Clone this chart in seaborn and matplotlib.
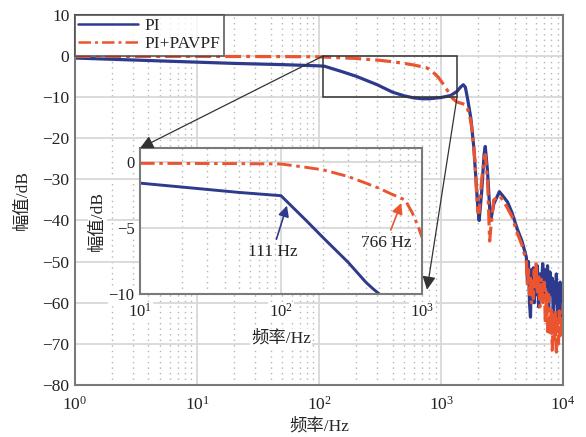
import numpy as np
import pandas as pd
import seaborn as sns
import matplotlib
matplotlib.use('Agg')
import matplotlib.pyplot as plt
from matplotlib.patches import Rectangle, ConnectionPatch
from matplotlib.ticker import LogLocator, NullFormatter

# ---- data ----
# main plot, PI
pi_f = [1, 2, 5, 10, 20, 50, 100, 111, 150, 200, 300, 400, 500, 600, 700, 800,
        1000, 1200, 1350, 1450, 1520, 1580, 1650, 1750, 1850, 1950, 2000, 2050,
        2150, 2250, 2300, 2400, 2500, 2550, 2700, 3000, 3200, 3500, 3800, 4200,
        4600, 5000, 5100, 5200, 5300, 5400, 5500, 5600, 5700, 5800, 5900, 6000,
        6150, 6300, 6450, 6600, 6800, 7000, 7150, 7300, 7450, 7600, 7800, 8000,
        8150, 8300, 8450, 8600, 8800, 9000, 9150, 9300, 9450, 9600, 9800, 10000]
pi_mag = [-0.5, -0.8, -1.2, -1.5, -1.8, -2.1, -2.4, -2.5, -3.7, -4.9, -7.0,
          -8.8, -9.7, -10.2, -10.4, -10.4, -10.1, -9.6, -8.6, -7.5, -7.0, -7.6,
          -10.5, -15.0, -22.0, -32.0, -37.0, -40.0, -33.0, -24.0, -22.0, -28.0,
          -37.0, -40.0, -36.0, -33.0, -34.0, -35.5, -38.0, -42.0, -45.0, -49.0,
          -55.0, -50.0, -60.0, -63.5, -52.0, -58.0, -51.5, -60.0, -53.0, -58.0,
          -51.0, -61.0, -53.0, -57.0, -50.5, -59.0, -52.0, -56.0, -51.0, -62.0,
          -52.5, -58.0, -54.0, -63.0, -55.0, -60.0, -53.0, -65.0, -56.0, -62.0,
          -55.0, -65.0, -59.0, -57.0]

# main plot, PI+PAVPF
pv_f = [1, 10, 50, 100, 200, 300, 400, 500, 600, 766, 850, 950, 1050, 1150,
        1250, 1350, 1500, 1600, 1700, 1800, 1900, 1950, 2000, 2050, 2150, 2250,
        2300, 2400, 2500, 2550, 2700, 3000, 3200, 3500, 3800, 4200, 4600, 5000,
        5100, 5200, 5300, 5400, 5500, 5600, 5700, 5800, 5900, 6000, 6150, 6300,
        6450, 6600, 6800, 7000, 7150, 7300, 7450, 7600, 7800, 8000, 8150, 8300,
        8450, 8600, 8800, 9000, 9150, 9300, 9450, 9600, 9800, 10000]
pv_mag = [-0.1, -0.1, -0.15, -0.2, -0.6, -1.0, -1.4, -1.8, -2.2, -2.9, -3.8,
          -5.2, -7.0, -8.8, -10.4, -11.2, -11.6, -12.0, -14.0, -18.0, -26.0,
          -33.0, -38.0, -38.0, -30.0, -25.0, -24.0, -30.0, -45.0, -42.0, -35.0,
          -34.0, -35.0, -37.0, -39.0, -43.0, -46.0, -50.0, -56.0, -52.0, -58.0,
          -53.5, -60.0, -54.0, -59.0, -52.0, -57.0, -50.0, -58.0, -53.0, -61.0,
          -54.0, -60.0, -55.0, -65.0, -57.0, -67.0, -58.0, -68.0, -61.0, -71.5,
          -63.0, -69.0, -62.0, -72.0, -64.0, -70.0, -62.0, -68.0, -63.0, -67.0,
          -60.0]

# inset (zoom of 10 Hz - 1 kHz)
in_pi_f = [10, 20, 50, 100, 150, 200, 300, 400, 450, 500]
in_pi_mag = [-1.6, -1.9, -2.3, -2.55, -4.4, -5.75, -7.6, -9.1, -9.6, -10.0]
in_pv_f = [10, 50, 100, 150, 200, 300, 400, 500, 600, 700, 766, 800, 850, 900,
           950, 1000]
in_pv_mag = [-0.1, -0.12, -0.15, -0.4, -0.6, -1.1, -1.6, -2.0, -2.4, -2.7,
             -2.9, -3.3, -3.8, -4.4, -5.0, -5.7]

labels = ['PI', 'PI+PAVPF']
blue = '#2e3a8e'
orange = '#ea5530'
grid_c = '#d8d8d8'
spine_c = '#7a7a7a'
dashdot = (0, (5, 1.6, 1.2, 1.6))

sns.set_theme(style='white')
plt.rcParams['font.family'] = ['Liberation Serif', 'Noto Sans CJK SC']
plt.rcParams['mathtext.fontset'] = 'stix'
plt.rcParams['axes.unicode_minus'] = True

main = pd.concat([
    pd.DataFrame({'f': pi_f, 'mag': pi_mag, 'curve': labels[0]}),
    pd.DataFrame({'f': pv_f, 'mag': pv_mag, 'curve': labels[1]}),
])
inset = pd.concat([
    pd.DataFrame({'f': in_pi_f, 'mag': in_pi_mag, 'curve': labels[0]}),
    pd.DataFrame({'f': in_pv_f, 'mag': in_pv_mag, 'curve': labels[1]}),
])

fig = plt.figure(figsize=(5.86, 4.37), dpi=100)
ax = fig.add_axes([0.128, 0.119, 0.833, 0.847])


def style_axes(a, fs, xpad):
    a.set_xscale('log')
    a.xaxis.set_major_locator(LogLocator(base=10, numticks=10))
    a.xaxis.set_minor_locator(LogLocator(base=10, subs=np.arange(2, 10), numticks=10))
    a.xaxis.set_minor_formatter(NullFormatter())
    a.grid(which='major', color=grid_c, lw=1.3, ls='-')
    a.grid(which='minor', axis='x', color='#b5b5b5', lw=1.0, ls=(0, (1, 3)))
    a.set_axisbelow(True)
    for s in a.spines.values():
        s.set_color(spine_c)
        s.set_linewidth(1.5)
    a.tick_params(which='both', direction='in', color=spine_c, labelsize=fs,
                  labelcolor='#222222')
    a.tick_params(axis='y', pad=4)
    a.tick_params(axis='x', pad=xpad)
    a.tick_params(which='major', length=4)
    a.tick_params(which='minor', length=2)


sns.lineplot(data=main, x='f', y='mag', hue='curve', style='curve',
             palette=[blue, orange], ax=ax, lw=2.3, sort=False, estimator=None)
for line, ls in zip(ax.lines, ['-', dashdot]):
    line.set_linestyle(ls)
style_axes(ax, 12.5, 8)
ax.set_xlim(1, 1e4)
ax.set_ylim(-80, 10)
ax.set_yticks(np.arange(-80, 11, 10))
ax.set_xlabel('频率/Hz', fontsize=12.5, labelpad=3)
ax.set_ylabel('幅值/dB', fontsize=12.5, labelpad=8)

leg = ax.legend(loc='upper left', fontsize=12.5, frameon=True, fancybox=False,
                borderaxespad=0.0, handlelength=3.4, borderpad=0.2,
                labelspacing=0.1, handletextpad=0.4)
leg.get_frame().set_edgecolor('#444444')
leg.get_frame().set_linewidth(1.3)
for h, ls in zip(leg.get_lines(), ['-', dashdot]):
    h.set_linestyle(ls)
    h.set_linewidth(1.8)

# zoom rectangle
ax.add_patch(Rectangle((108, -10), 1350 - 108, 10, fill=False, ec='#333333',
                       lw=1.1, zorder=5))

# inset
axin = fig.add_axes([0.239, 0.327, 0.481, 0.334])
axin.set_facecolor('white')
sns.lineplot(data=inset, x='f', y='mag', hue='curve', style='curve',
             palette=[blue, orange], ax=axin, lw=2.1, sort=False,
             estimator=None, legend=False)
for line, ls in zip(axin.lines, ['-', dashdot]):
    line.set_linestyle(ls)
style_axes(axin, 12, 6)
axin.set_xlim(10, 1000)
axin.set_ylim(-10, 1.05)
axin.set_yticks([0, -5, -10])
axin.set_xlabel('频率/Hz', fontsize=12.5, labelpad=7,
                bbox=dict(fc='white', ec='none', pad=1))
axin.set_ylabel('幅值/dB', fontsize=12.5, labelpad=2,
                bbox=dict(fc='white', ec='none', pad=1))
for t in axin.get_xticklabels() + axin.get_yticklabels():
    t.set_bbox(dict(fc='white', ec='none', pad=0.5))

axin.annotate('111 Hz', xy=(111, -3.2), xytext=(87, -6.8), ha='center',
              va='center', fontsize=12.5, color='#222222',
              arrowprops=dict(arrowstyle='-|>', color=blue, lw=1.2,
                              mutation_scale=16, shrinkA=1, shrinkB=1))
axin.annotate('766 Hz', xy=(720, -3.0), xytext=(555, -6.1), ha='center',
              va='center', fontsize=12.5, color='#222222',
              arrowprops=dict(arrowstyle='-|>', color=orange, lw=1.2,
                              mutation_scale=16, shrinkA=1, shrinkB=1))

# connector arrows from the zoom box to the inset
for xyA, xyB in [((108, 0), (0.0, 1.0)), ((1350, -10), (1.018, 0.03))]:
    con = ConnectionPatch(xyA=xyA, coordsA=ax.transData, xyB=xyB,
                          coordsB=axin.transAxes, arrowstyle='-|>',
                          color='#333333', lw=0.9, mutation_scale=20)
    fig.add_artist(con)

fig.savefig('out.png', dpi=100)
